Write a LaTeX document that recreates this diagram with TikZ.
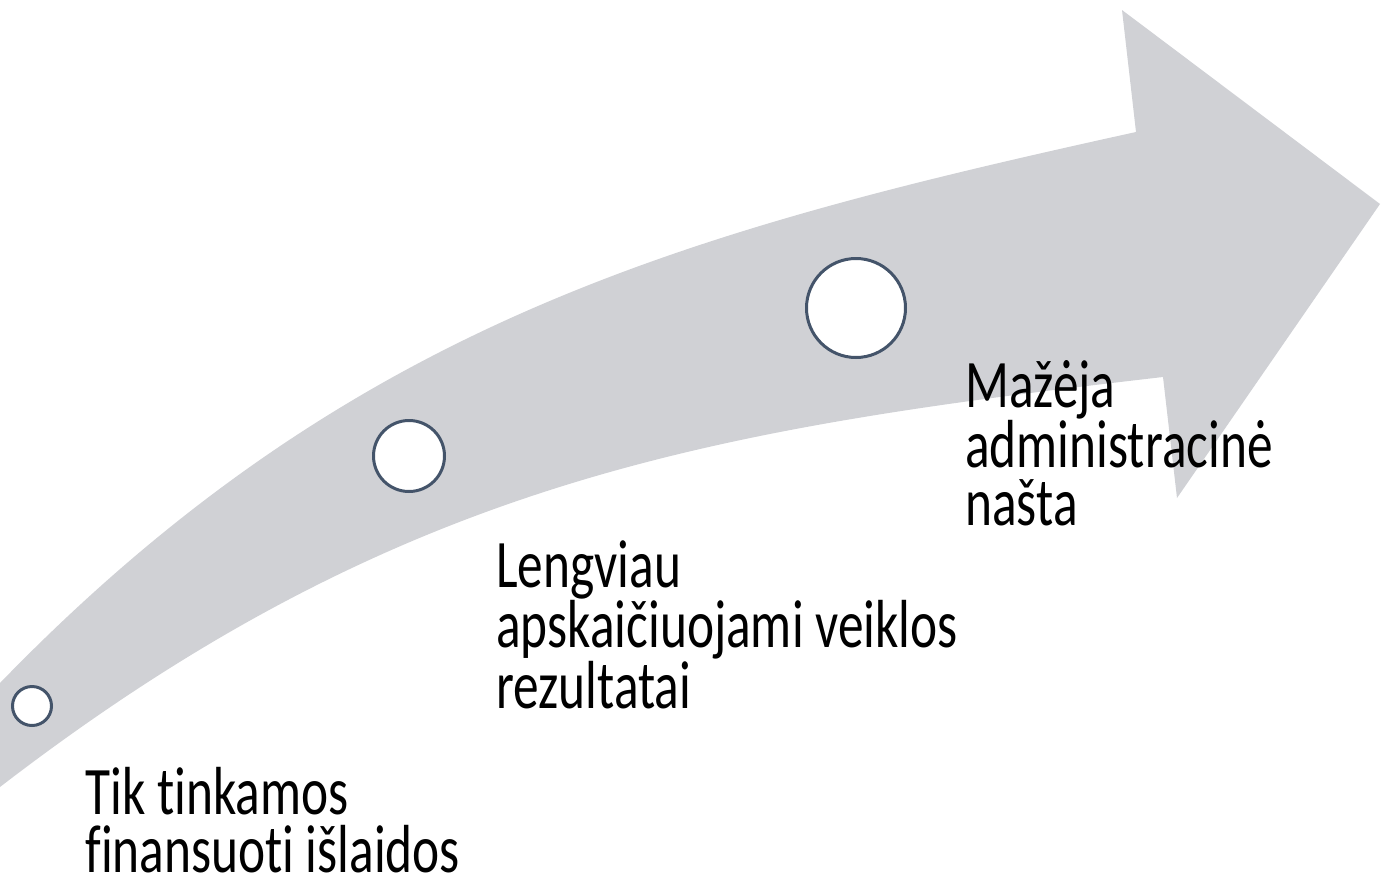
\documentclass[tikz,border=0pt]{standalone}
\usepackage{graphicx}
\usepackage{fontspec}
\setmainfont[Ligatures={NoCommon}]{Carlito}
\definecolor{arrowgray}{RGB}{208,209,213}
\definecolor{ringcol}{RGB}{68,84,106}
\begin{document}
\begin{tikzpicture}[x=0.5pt,y=-0.5pt,
  ring/.style={circle, draw=ringcol, fill=white, line width=1.5pt, inner sep=0pt},
  lbl/.style={anchor=base west, inner sep=0pt, text=black, font=\fontsize{34}{29}\selectfont}]
\useasboundingbox (0,0) rectangle (1383,879);
% big curved arrow
\fill[arrowgray] (0,683) .. controls (350,322) and (686,231) .. (1136,132)
  -- (1122,10) -- (1380,204) -- (1177,498) -- (1163,377)
  .. controls (713,429) and (400,479) .. (0,787) -- cycle;
% milestones
\node[ring, minimum size=19.5pt] (c0) at (32,706) {};
\node[ring, minimum size=35.5pt] (c1) at (409,456) {};
\node[ring, minimum size=49.5pt] (c2) at (856,308) {};
% labels
\node[lbl] (t0) at (85,814) {\scalebox{0.755}[1]{\vtop{\baselineskip=29pt\hbox{Tik tinkamos}\hbox{finansuoti išlaidos}}}};
\node[lbl] (t1) at (496,587) {\scalebox{0.755}[1]{\vtop{\baselineskip=29pt\hbox{Lengviau}\hbox{apskaičiuojami veiklos}\hbox{rezultatai}}}};
\node[lbl] (t2) at (965,407) {\scalebox{0.755}[1]{\vtop{\baselineskip=29pt\hbox{Mažėja}\hbox{administracinė}\hbox{našta}}}};
\end{tikzpicture}
\end{document}
